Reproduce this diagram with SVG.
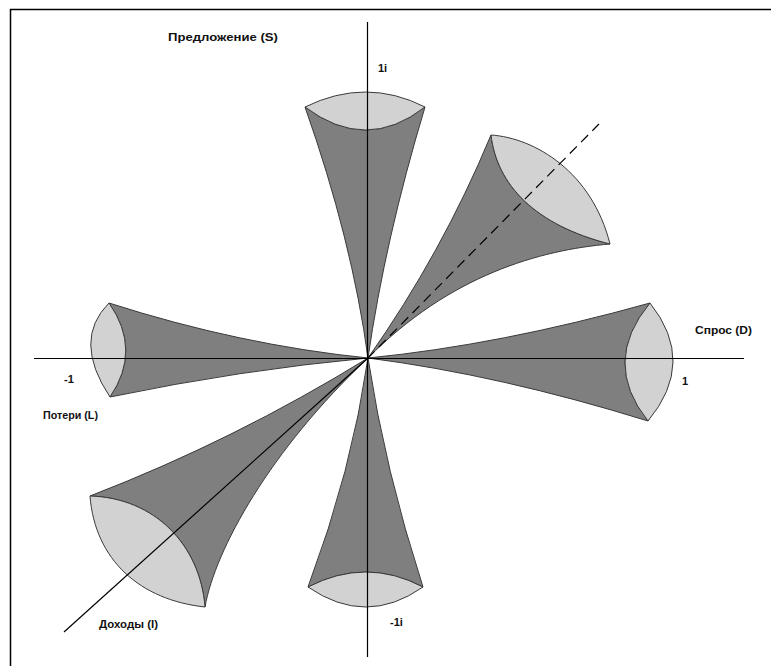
<svg xmlns="http://www.w3.org/2000/svg" width="771" height="666" viewBox="0 0 771 666">
<style>
.dark{fill:#7f7f7f;stroke:#3a3a3a;stroke-width:1;stroke-linejoin:round}
.light{fill:#d2d2d2;stroke:#3a3a3a;stroke-width:1;stroke-linejoin:round}
.axis{stroke:#000;stroke-width:1.2;fill:none}
.lbl{font-family:"Liberation Sans",Arial,sans-serif;font-weight:bold;font-size:11px;fill:#111}
</style>
<rect x="0" y="0" width="771" height="666" fill="#fff"/>
<rect x="10.5" y="9.5" width="800" height="700" fill="none" stroke="#000" stroke-width="1.5"/>
<g id="petal-top">
<path class="dark" d="M368,358 Q352,240 305,107 Q366,153 425,107 Q385,240 368,358 Z"/>
<path class="light" d="M305,107 Q366,77 425,107 Q366,153 305,107 Z"/>
</g>
<g id="petal-upper-right">
<path class="dark" d="M368,358 Q442,253 491,135 C497,185 535,225 610,244 C540,250 450,275 368,358 Z"/>
<path class="light" d="M491,135 C535,138 592,172 610,244 C535,225 497,185 491,135 Z"/>
</g>
<g id="petal-right">
<path class="dark" d="M368,358 Q500,345 650,303 Q601,362 648,421 Q500,375 368,358 Z"/>
<path class="light" d="M650,303 Q697,362 648,421 Q601,362 650,303 Z"/>
</g>
<g id="petal-left">
<path class="dark" d="M368,358 Q240,345 109,303 Q142,350 110,397 Q240,370 368,358 Z"/>
<path class="light" d="M109,303 Q72,340 110,397 Q142,350 109,303 Z"/>
</g>
<g id="petal-lower-left">
<path class="dark" d="M368,358 Q235,440 90,496 C155,498 200,545 205,607 C215,550 270,450 368,358 Z"/>
<path class="light" d="M90,496 C95,560 140,600 205,607 C200,545 155,498 90,496 Z"/>
</g>
<g id="petal-bottom">
<path class="dark" d="M368,358 Q352,470 308,587 Q366,557 423,587 Q385,470 368,358 Z"/>
<path class="light" d="M308,587 Q366,627 423,587 Q366,557 308,587 Z"/>
</g>
<g id="connectors">
<line class="axis" x1="34" y1="358.5" x2="744" y2="358.5"/>
<line class="axis" x1="367.5" y1="22" x2="367.5" y2="657"/>
<line class="axis" x1="367.5" y1="358.5" x2="599" y2="124" stroke-dasharray="10,6" stroke="#333"/>
<line class="axis" x1="367.5" y1="358.5" x2="64" y2="632" stroke="#333"/>
</g>
<g id="labels">
<text class="lbl" x="168" y="41" textLength="110" lengthAdjust="spacingAndGlyphs">Предложение (S)</text>
<text class="lbl" x="378" y="72">1i</text>
<text class="lbl" x="695" y="334" textLength="57" lengthAdjust="spacingAndGlyphs">Спрос (D)</text>
<text class="lbl" x="682" y="385">1</text>
<text class="lbl" x="64" y="383">-1</text>
<text class="lbl" x="43" y="419" textLength="55" lengthAdjust="spacingAndGlyphs">Потери (L)</text>
<text class="lbl" x="99" y="628" textLength="59" lengthAdjust="spacingAndGlyphs">Доходы (I)</text>
<text class="lbl" x="390" y="626">-1i</text>
</g>
</svg>
